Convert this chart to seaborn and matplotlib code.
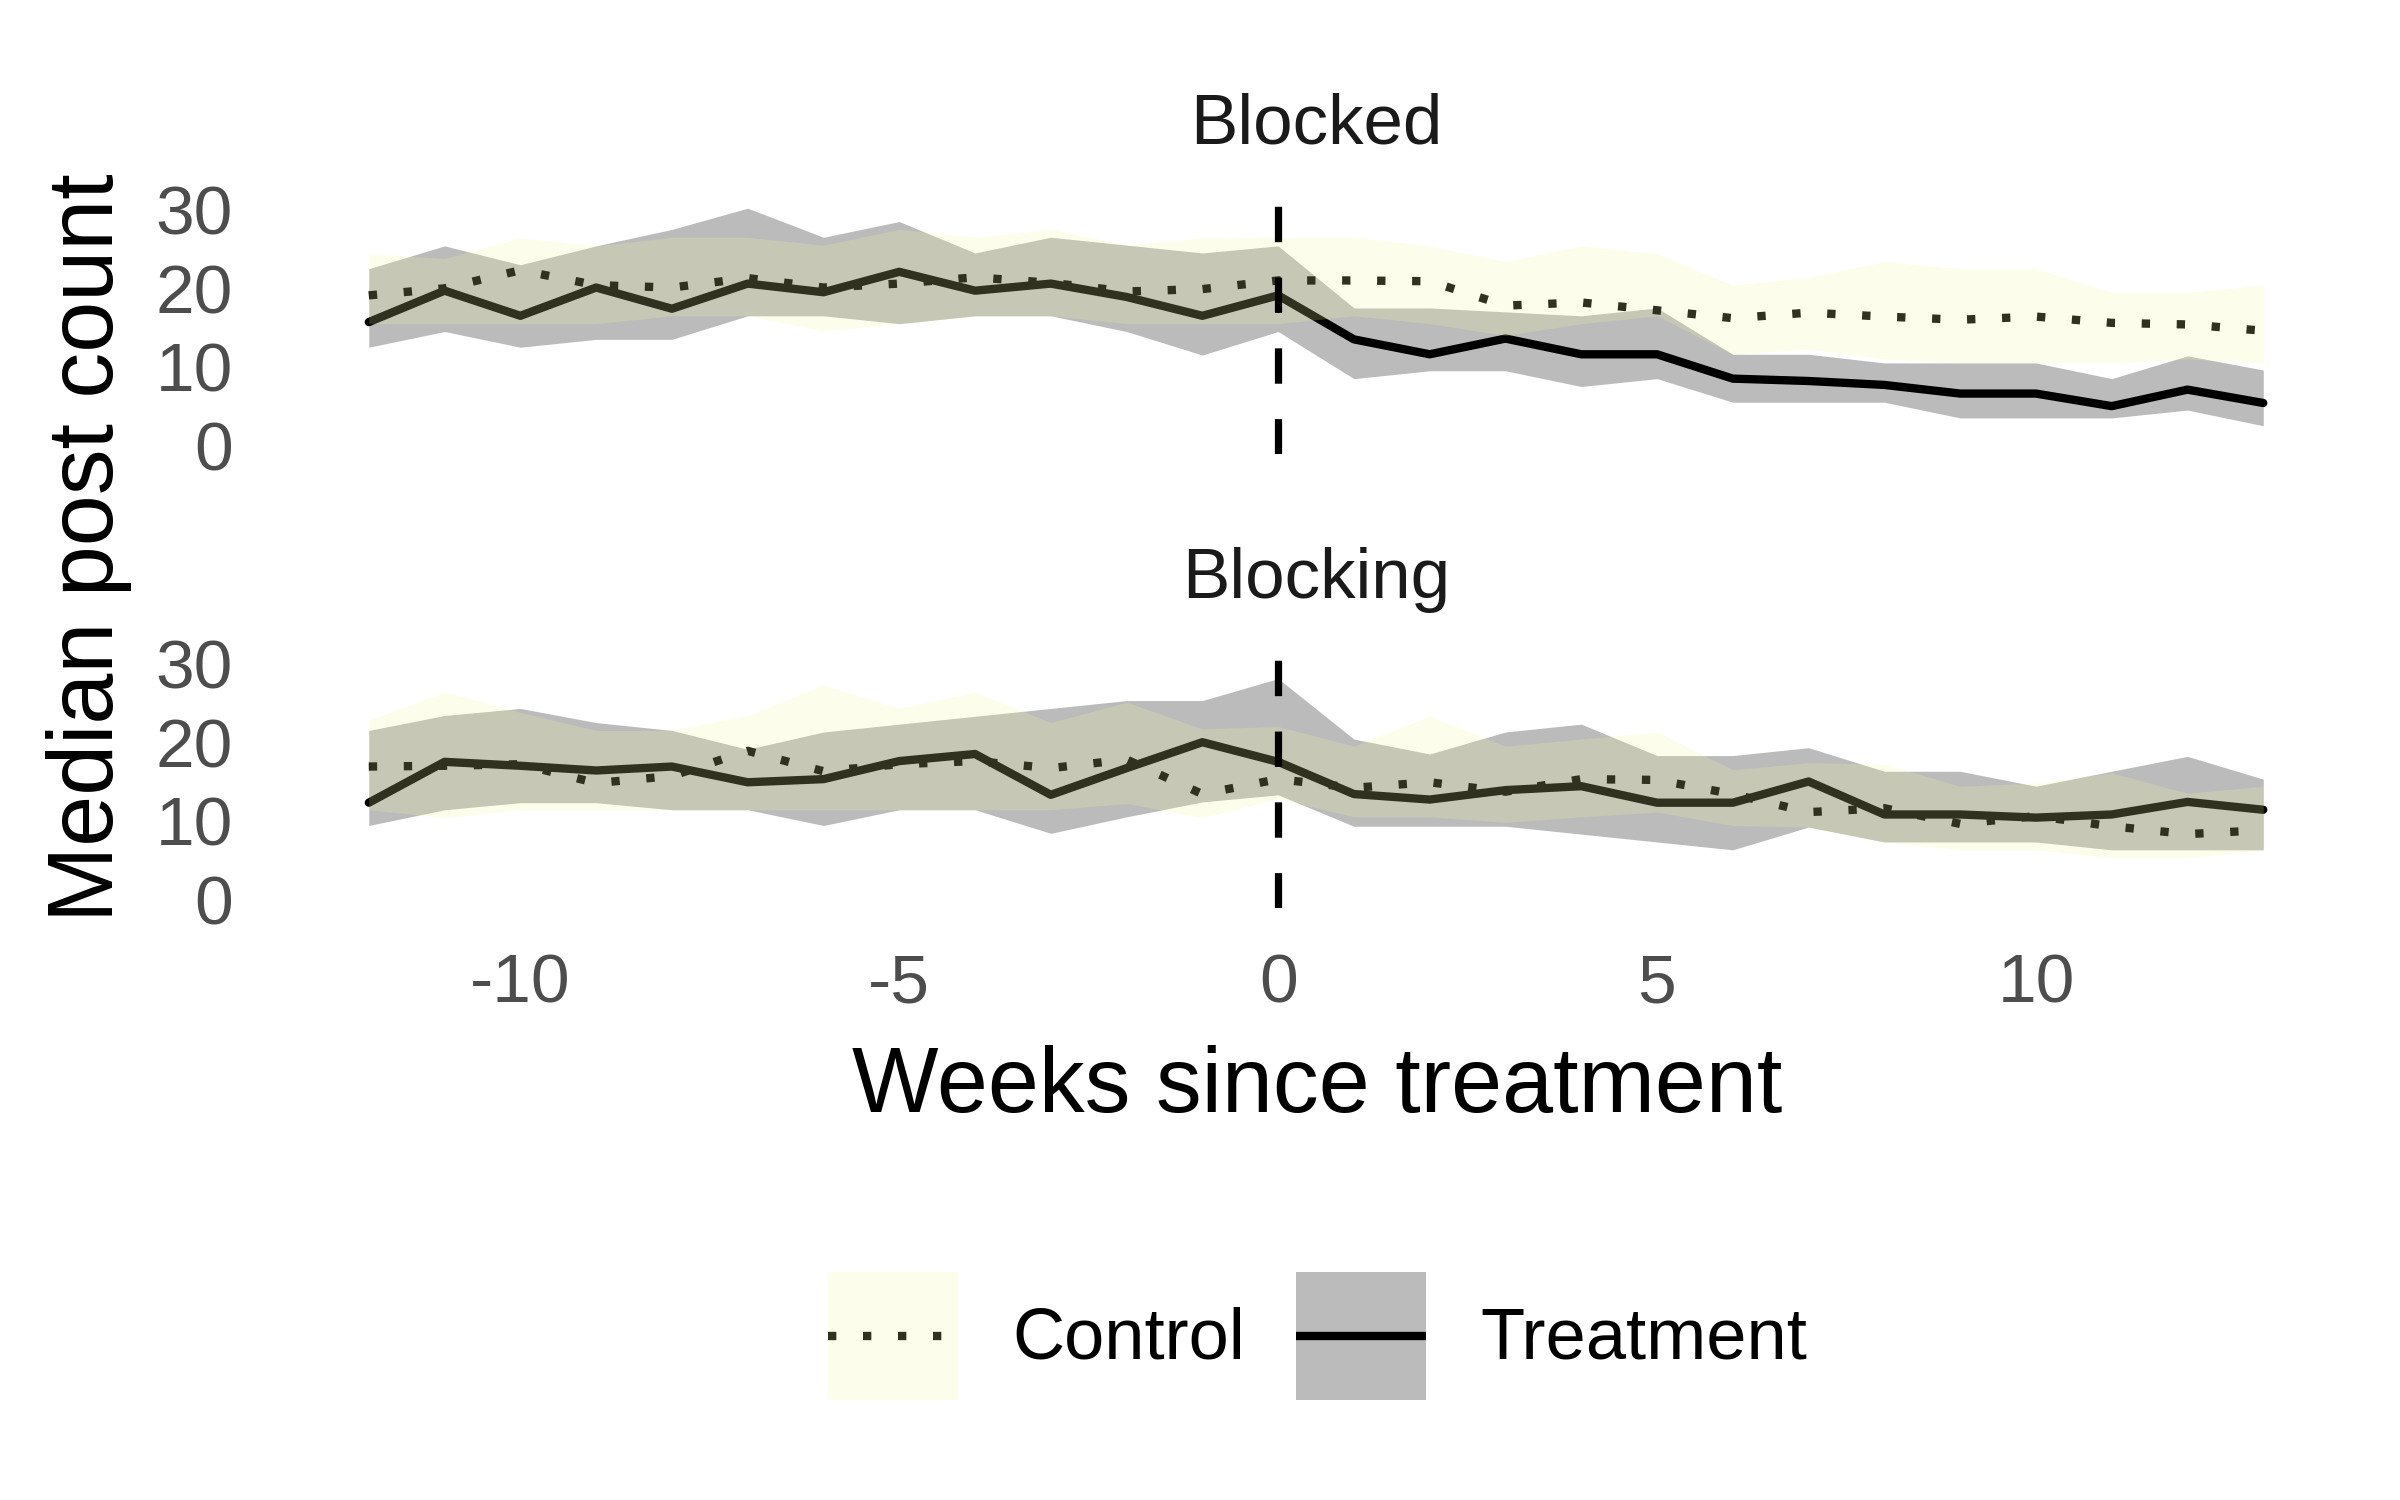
import numpy as np
import pandas as pd
import seaborn as sns
import matplotlib
matplotlib.use("Agg")
from matplotlib import pyplot as plt
from matplotlib.patches import Patch
from matplotlib.lines import Line2D
from matplotlib.legend_handler import HandlerLine2D

# 每周中位数及区间
weeks = list(range(-12, 14))
panels = ["Blocked", "Blocking"]
groups = ["Control", "Treatment"]

blocked_treat_med = [15.7, 19.7, 16.5, 20.1, 17.4, 20.6, 19.5, 22.1, 19.7, 20.6, 18.9, 16.5, 19.1,
                     13.5, 11.6, 13.6, 11.6, 11.6, 8.5, 8.2, 7.7, 6.6, 6.6, 5.0, 7.1, 5.4]
blocked_treat_lo = [12.5, 14.5, 12.5, 13.5, 13.5, 16.5, 16.5, 15.5, 16.5, 16.5, 14.5, 11.5, 14.5,
                    8.5, 9.5, 9.5, 7.5, 8.5, 5.5, 5.5, 5.5, 3.5, 3.5, 3.5, 4.5, 2.5]
blocked_treat_hi = [22.5, 25.4, 23.0, 25.4, 27.5, 30.2, 26.5, 28.5, 24.5, 26.5, 25.5, 24.5, 25.4,
                    17.5, 17.5, 17.0, 16.5, 17.5, 11.6, 11.6, 10.5, 10.5, 10.5, 8.5, 11.4, 9.6]
blocked_ctrl_med = [19.1, 20.0, 22.3, 20.4, 20.1, 21.3, 20.1, 20.6, 21.4, 20.7, 19.6, 19.9, 21.0,
                    21.0, 20.9, 17.8, 18.2, 17.2, 16.2, 16.9, 16.4, 16.0, 16.4, 15.6, 15.4, 14.6]
blocked_ctrl_lo = [15.5, 15.5, 15.5, 15.5, 16.5, 16.5, 14.6, 15.5, 16.5, 16.5, 15.5, 15.5, 15.5,
                   16.5, 15.5, 14.0, 15.5, 16.5, 11.6, 12.3, 11.0, 10.5, 10.5, 10.5, 11.0, 10.5]
blocked_ctrl_hi = [24.4, 23.8, 26.4, 25.4, 26.5, 26.5, 25.5, 27.5, 26.5, 27.5, 25.5, 26.4, 26.5,
                   26.5, 25.4, 23.4, 25.4, 24.4, 20.4, 21.4, 23.4, 22.5, 22.5, 19.5, 19.5, 20.4]

blocking_treat_med = [12.3, 17.5, 17.0, 16.4, 16.9, 14.9, 15.3, 17.6, 18.5, 13.3, 16.7, 20.0, 17.5,
                      13.4, 12.7, 13.9, 14.4, 12.3, 12.3, 15.0, 10.8, 10.8, 10.4, 10.8, 12.4, 11.4]
blocking_treat_lo = [9.4, 11.4, 12.3, 12.3, 11.4, 11.4, 9.4, 11.4, 11.4, 8.4, 10.5, 12.4, 13.3,
                     9.3, 9.3, 9.3, 8.3, 7.3, 6.3, 9.2, 7.3, 7.3, 7.3, 6.3, 6.3, 6.3]
blocking_treat_hi = [21.5, 23.4, 24.3, 22.5, 21.5, 19.1, 21.3, 22.3, 23.3, 24.3, 25.3, 25.3, 28.1,
                     20.4, 18.5, 21.3, 22.3, 18.3, 18.3, 19.3, 16.3, 16.3, 14.4, 16.3, 18.2, 15.3]
blocking_ctrl_med = [16.9, 17.0, 17.2, 14.8, 15.7, 18.9, 16.3, 17.2, 17.6, 16.7, 17.8, 13.4, 15.3,
                     14.2, 14.9, 13.7, 15.3, 15.2, 13.4, 11.1, 11.6, 9.6, 10.6, 9.3, 8.3, 8.8]
blocking_ctrl_lo = [11.4, 10.4, 11.4, 11.4, 11.4, 11.4, 11.4, 11.4, 11.4, 11.4, 12.2, 10.4, 12.8,
                    10.5, 10.5, 9.8, 10.5, 11.1, 9.4, 9.2, 7.3, 6.3, 6.3, 5.3, 5.3, 6.3]
blocking_ctrl_hi = [22.8, 26.4, 23.8, 21.5, 21.5, 23.4, 27.3, 24.3, 26.4, 22.5, 25.1, 21.7, 22.0,
                    19.5, 23.3, 19.5, 20.4, 21.3, 16.5, 17.4, 17.2, 14.4, 14.8, 16.1, 13.5, 14.4]

series = {
    ("Blocked", "Control"): (blocked_ctrl_med, blocked_ctrl_lo, blocked_ctrl_hi),
    ("Blocked", "Treatment"): (blocked_treat_med, blocked_treat_lo, blocked_treat_hi),
    ("Blocking", "Control"): (blocking_ctrl_med, blocking_ctrl_lo, blocking_ctrl_hi),
    ("Blocking", "Treatment"): (blocking_treat_med, blocking_treat_lo, blocking_treat_hi),
}
frames = []
for (panel, group), (med, lo, hi) in series.items():
    frames.append(pd.DataFrame({"week": weeks, "panel": panel, "group": group,
                                "median": med, "lo": lo, "hi": hi}))
df = pd.concat(frames, ignore_index=True)

sns.set_theme(style="white")
plt.rcParams["font.family"] = ["Liberation Sans", "DejaVu Sans"]
plt.rcParams["axes.unicode_minus"] = False

yellow = "#F8F8A0"
yellow_alpha = 0.2
grey = "#BBBBBB"
line_w = 3.0
dot_style = (1.0, 3.2)


# 图例里的线放在色块正中
class CenteredLine(HandlerLine2D):
    def create_artists(self, legend, orig_handle, xdescent, ydescent,
                       width, height, fontsize, trans):
        arts = super().create_artists(legend, orig_handle, xdescent, ydescent,
                                      width, height, fontsize, trans)
        for a in arts:
            a.set_ydata([height / 2 - ydescent] * len(a.get_ydata()))
        return arts


fig = plt.figure(figsize=(12, 7.5), dpi=200)
ax_top = fig.add_axes([0.1142, 0.6973, 0.8683, 0.166])
ax_bot = fig.add_axes([0.1142, 0.3947, 0.8683, 0.166])

for ax, panel in zip([ax_top, ax_bot], panels):
    sub = df[df["panel"] == panel]
    t = sub[sub["group"] == "Treatment"]
    c = sub[sub["group"] == "Control"]
    ax.fill_between(t["week"], t["lo"], t["hi"], color=grey, lw=0, zorder=1)
    sns.lineplot(data=sub, x="week", y="median", style="group", style_order=groups,
                 dashes={"Control": dot_style, "Treatment": ""}, color="black",
                 lw=line_w, legend=False, estimator=None, ax=ax)
    ax.fill_between(c["week"], c["lo"], c["hi"], color=yellow, alpha=yellow_alpha,
                    lw=0, zorder=2.5)
    ax.axvline(0, color="black", lw=2.6, ls=(0, (4.9, 4.9)), zorder=3)

    ax.set_xlim(-13.25, 14.25)
    ax.set_ylim(-1.1, 30.6)
    ax.set_yticks([0, 10, 20, 30])
    ax.set_xticks([-10, -5, 0, 5, 10])
    ax.set_xlabel("")
    ax.set_ylabel("")
    ax.grid(False)
    for s in ax.spines.values():
        s.set_visible(False)
    ax.tick_params(axis="both", length=0, labelsize=25, labelcolor="#4D4D4D")
    ax.tick_params(axis="y", pad=14.8)
    ax.tick_params(axis="x", pad=16)
    ax.set_title(panel, fontsize=25.5, color="#1A1A1A", pad=22)

ax_top.tick_params(axis="x", labelbottom=False)

fig.text(0.055, 0.635, "Median post count", rotation=90, ha="right", va="center",
         fontsize=33, color="black")
fig.text(0.549, 0.2587, "Weeks since treatment", ha="center", va="baseline",
         fontsize=33, color="black")

line_c = Line2D([], [], color="black", lw=line_w, ls=(0, dot_style))
patch_c = Patch(facecolor=yellow, alpha=yellow_alpha, edgecolor="none")
line_t = Line2D([], [], color="black", lw=line_w, solid_capstyle="butt")
patch_t = Patch(facecolor=grey, edgecolor="none")
fig.legend(handles=[(line_c, patch_c), (patch_t, line_t)], labels=groups,
           handler_map={Line2D: CenteredLine()},
           loc="center", bbox_to_anchor=(0.549, 0.1093), ncol=2, frameon=False,
           fontsize=26, labelcolor="black", handlelength=1.8, handleheight=2.35,
           handletextpad=0.75, columnspacing=0.7, borderpad=0)

fig.savefig("out.png", dpi=200)
